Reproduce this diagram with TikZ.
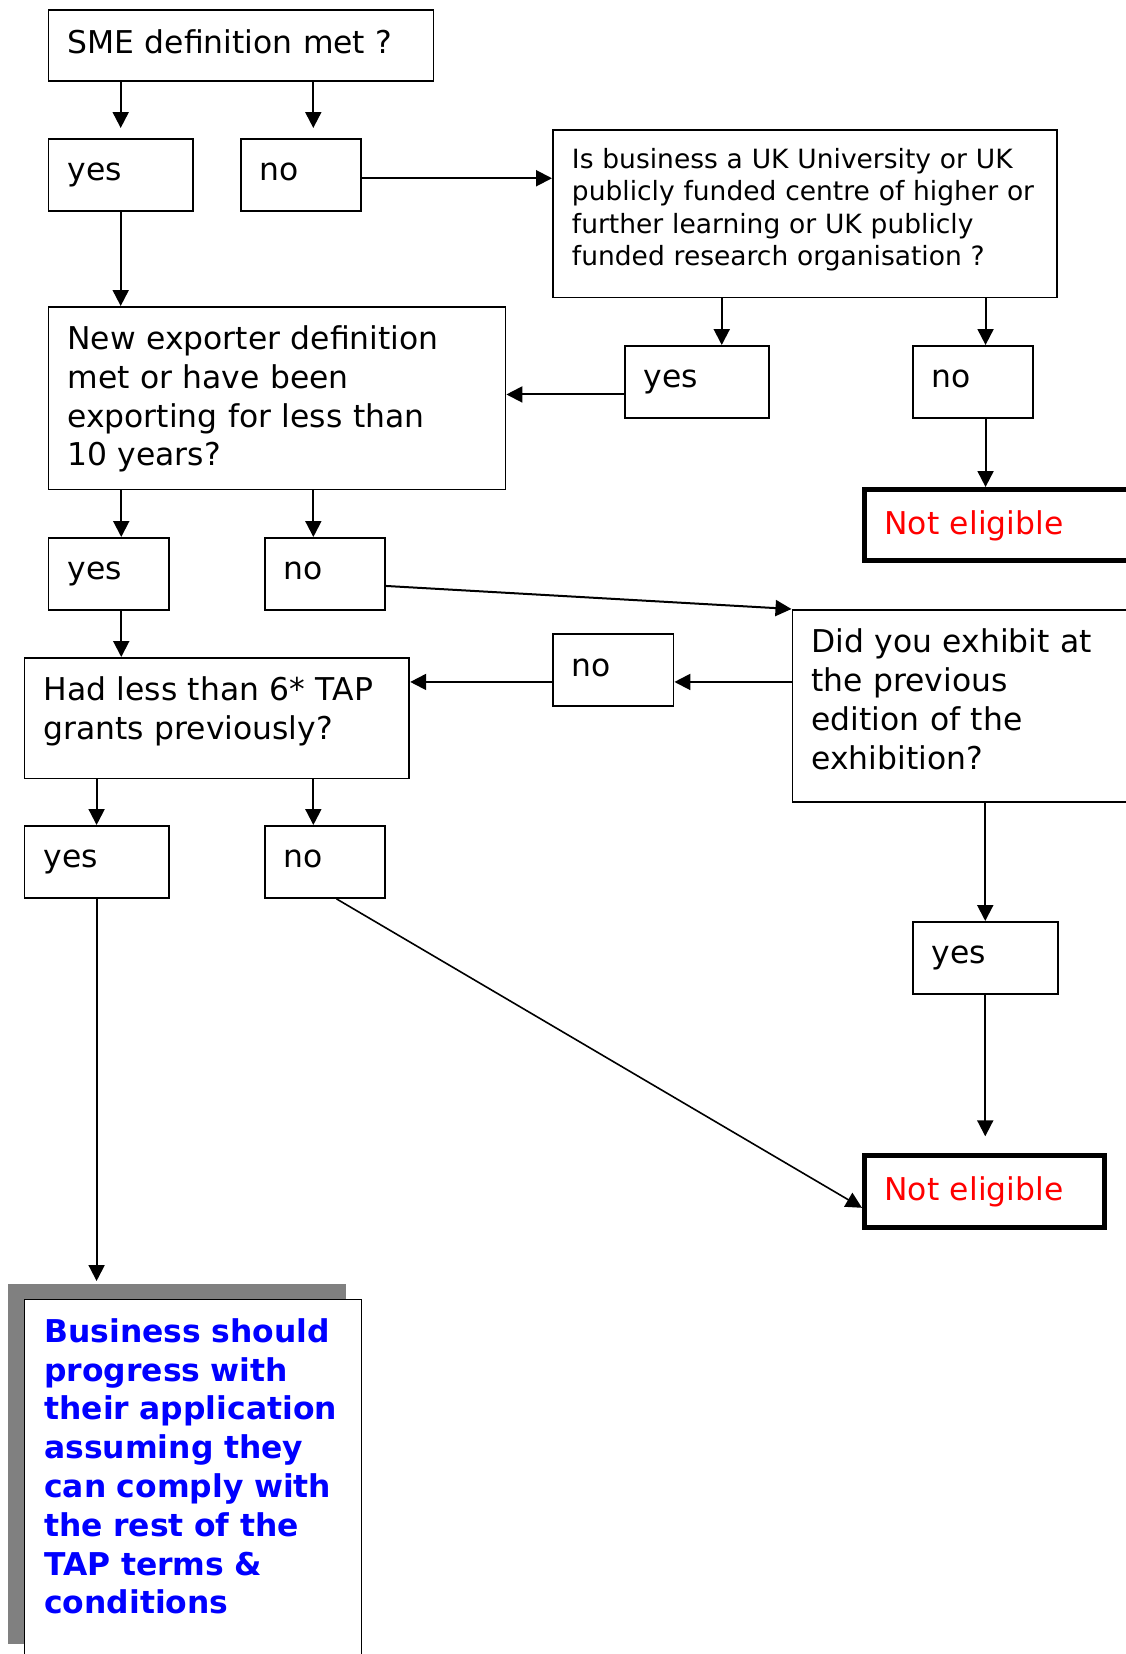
\documentclass[tikz,border=0pt]{standalone}
\usepackage{fontspec}
\setmainfont{DejaVu Sans}
\usepackage{xcolor}
\usetikzlibrary{arrows.meta,positioning,shapes,shadows}

\begin{document}
\begin{tikzpicture}[x = 1pt, y = -1pt,
		box_node/.style = {rectangle, draw, line width = 1.9pt, anchor = north west, align = left, inner xsep = 19pt, inner ysep = 0pt, text height = 42pt, text depth = 30pt, font = \fontsize{31.4}{38.8}\selectfont},
		small_node/.style = {box_node, font = \fontsize{26.5}{32.3}\selectfont},
		stop_node/.style = {box_node, line width = 5pt, inner xsep = 20pt, text = red},
		goal_node/.style = {box_node, line width = 1.3pt, inner xsep = 20pt, fill = white, text = blue, font = \fontsize{31.4}{38.8}\selectfont\bfseries, drop shadow = {shadow xshift = -16pt, shadow yshift = 16pt, fill = gray, opacity = 1}},
		->,
		line width = 2pt,
		>={Triangle[length = 16pt, width = 16pt]},
		]
		\useasboundingbox (0, 0) rectangle (1126, 1654);
		\clip (0, 0) rectangle (1126, 1654);

		%SME
		\node[box_node, text width = 347pt, text height = 43pt, text depth = 27.5pt](sme) at (47.5, 9.5){SME definition met ?};
		\node[box_node, text width = 106.5pt](yes1) at (47.5, 138){yes};
		\node[box_node, text width = 82.3pt](no1) at (239.6, 138){no};

		%university
		\node[small_node, text width = 466.4pt, text height = 38.8pt, text depth = 129pt](uni) at (552, 128.7){Is business a UK University or UK\\publicly funded centre of higher or\\further learning or UK publicly\\funded research organisation ?};
		\node[box_node, text width = 106.6pt, text height = 42pt, text depth = 30pt](yes2) at (623.7, 345){yes};
		\node[box_node, text width = 82.2pt, text height = 42pt, text depth = 30pt](no2) at (911.8, 345){no};
		\node[stop_node, text width = 235pt, text height = 44.5pt, text depth = 26.5pt](stop1) at (862, 487){Not eligible};

		%new exporter
		\node[box_node, text width = 419pt, text height = 42.5pt, text depth = 140pt](exporter) at (47.5, 306){New exporter definition\\met or have been\\exporting for less than\\10 years?};
		\node[box_node, text width = 82.3pt](yes3) at (47.5, 537){yes};
		\node[box_node, text width = 82.2pt](no3) at (263.8, 537){no};

		%exhibition
		\node[box_node, text width = 310.5pt, text height = 42.7pt, text depth = 149.3pt](exhib) at (791.5, 609){Did you exhibit at\\the previous\\edition of the\\exhibition?};
		\node[box_node, text width = 82.5pt, text height = 42.5pt, text depth = 29.5pt](no4) at (552, 633){no};
		\node[box_node, text width = 106.6pt](yes5) at (912, 921){yes};

		%grants
		\node[box_node, text width = 346.8pt, text height = 43pt, text depth = 77.5pt](grants) at (23.5, 657){Had less than 6* TAP\\grants previously?};
		\node[box_node, text width = 106.3pt](yes4) at (23.5, 825){yes};
		\node[box_node, text width = 82.2pt](no5) at (263.8, 825){no};
		\node[stop_node, text width = 200.3pt, text height = 44.2pt, text depth = 27.8pt](stop2) at (862, 1153.3){Not eligible};

		%progress
		\node[goal_node, text width = 297.3pt, text height = 42.7pt, text depth = 317.3pt](goal) at (23.7, 1299){Business should\\progress with\\their application\\assuming they\\can comply with\\the rest of the\\TAP terms \&\\conditions};

		\draw[shorten > = 10pt](sme.south -| yes1.north) to (yes1.north);
		\draw[shorten > = 10pt]([xshift = 12.6pt]no1.north |- sme.south) to ([xshift = 12.6pt]no1.north);
		\draw([yshift = -3.3pt]no1.east) to ([yshift = -3.3pt]no1.east -| uni.west);
		\draw(yes1.south) to (yes1.south |- exporter.north);
		\draw([xshift = 24.8pt]yes2.north |- uni.south) to ([xshift = 24.8pt]yes2.north);
		\draw([xshift = 12.7pt]no2.north |- uni.south) to ([xshift = 12.7pt]no2.north);
		\draw([yshift = -12.5pt]yes2.west) to ([yshift = -12.5pt]yes2.west -| exporter.east);
		\draw([xshift = 12.7pt]no2.south) to ([xshift = 12.7pt]no2.south |- stop1.north);
		\draw([xshift = 12.65pt]yes3.north |- exporter.south) to ([xshift = 12.65pt]yes3.north);
		\draw([xshift = -11.5pt]no3.north |- exporter.south) to ([xshift = -11.5pt]no3.north);
		\draw([yshift = -12pt]no3.east) to (exhib.north west);
		\draw([xshift = 12.65pt]yes3.south) to ([xshift = 12.65pt]yes3.south |- grants.north);
		\draw([yshift = -12pt]no4.east -| exhib.west) to ([yshift = -12pt]no4.east);
		\draw([yshift = -12pt]no4.west) to ([yshift = -12pt]no4.west -| grants.east);
		\draw(yes4.north |- grants.south) to (yes4.north);
		\draw([xshift = -11.5pt]no5.north |- grants.south) to ([xshift = -11.5pt]no5.north);
		\draw[shorten > = 18pt](yes4.south) to (yes4.south |- goal.north);
		\draw[line width = 1.6pt]([xshift = 11.7pt]no5.south) to ([yshift = -16pt]stop2.west);
		\draw(exhib.south -| yes5.north) to (yes5.north);
		\draw[shorten > = 17pt](yes5.south) to (yes5.south |- stop2.north);

\end{tikzpicture}
\end{document}
